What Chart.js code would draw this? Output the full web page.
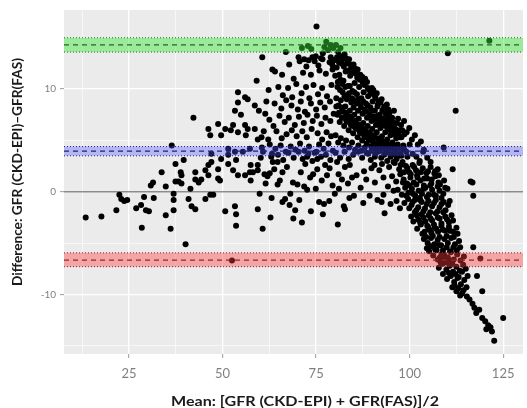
<!DOCTYPE html>
<html>
<head>
<meta charset="utf-8">
<script src="https://cdn.jsdelivr.net/npm/chart.js@4.4.0/dist/chart.umd.min.js"></script>
<style>
  html, body { margin: 0; padding: 0; background: #fff; }
  #wrap { width: 527px; height: 408px; }
</style>
</head>
<body>
<div id="wrap"><canvas id="baChart" width="527" height="408"></canvas></div>
<script>
// Bland-Altman plot: CKD-EPI vs FAS

// axis ranges and ticks
const xMin = 7.6, xMax = 130.3;
const yMin = -15.8, yMax = 17.7;
const xGrid = [12.5, 25, 37.5, 50, 62.5, 75, 87.5, 100, 112.5, 125];
const xLabels = [25, 50, 75, 100, 125];
const yGrid = [-15, -10, -5, 0, 5, 10, 15];
const yLabels = [-10, 0, 10];

// limits of agreement (upper, bias, lower) with their confidence bands
const loaValues = [14.3, 3.95, -6.65];
const loaHigh = [15.0, 4.4, -5.95];
const loaLow = [13.6, 3.5, -7.3];

// [mean, difference] per patient
const points = [
  // low GFR, sparse
  [13.4,-2.5],[17.6,-2.4],[21.6,-1.8],[22.4,-0.3],[22.9,-0.7],[23.7,-0.9],[24.5,-0.8],[26.9,-1.6],[28.4,-3.5],[28.2,-1.3],
  [29.5,-1.8],[30.3,-1.9],[29.0,-0.5],[31.6,-0.6],[30.8,0.6],[31.4,0.9],[33.7,1.9],[34.8,0.5],[34.8,-2.3],[36.1,-3.6],
  [36.4,4.5],[36.9,-0.2],[36.9,-0.8],[36.9,-1.8],[37.4,1.0],[37.4,2.7],[38.2,1.0],[38.8,1.9],[39.0,1.6],[39.0,0.8],
  [39.6,3.1],[40.1,-5.1],[40.9,-0.7],[41.4,0.3],[41.7,-1.4],[42.2,7.2],[42.7,-1.7],[42.7,1.2],[42.7,1.9],[43.6,0.9],
  [44.3,1.2],[45.4,-0.7],[45.4,2.1],[46.2,1.6],[46.2,2.6],[46.2,6.1],[46.7,-0.3],[46.7,5.5],[47.0,2.9],[47.0,3.7],
  [47.5,-0.3],[48.8,1.3],[48.8,2.2],[48.8,6.6],[49.3,1.1],[49.6,3.2],[49.6,5.5],[50.7,-1.9],[50.7,6.1],[51.5,2.7],
  [51.5,3.6],[51.5,4.2],[52.2,6.0],[52.5,-6.7],[52.8,2.1],[52.8,6.5],[53.3,-1.4],[53.3,3.9],[53.3,7.9],[53.6,-2.2],
  [53.6,-3.3],[53.6,3.1],[54.1,1.6],[54.1,5.8],[54.1,8.7],[54.1,9.7],[54.9,7.5],[55.4,3.9],[56.0,1.6],[56.0,6.5],
  [56.0,9.2],[56.2,5.5],[56.7,6.1],[56.7,9.0],[57.3,1.9],[57.3,4.2],[57.5,1.1],[57.5,2.6],[58.6,8.4],[58.6,6.1],
  // middle range, upper part
  [59.1,10.8],[60.6,13.1],[63.3,11.9],[59.7,7.9],[61.4,7.6],[60.4,5.3],[66.9,13.6],[70.3,13.1],[71.2,14.0],[72.8,14.2],
  [73.7,13.9],[74.9,13.2],[75.1,16.1],[76.8,13.5],[77.7,14.6],[78.9,13.1],[79.6,14.0],[64.0,11.7],[65.9,11.4],[67.8,12.4],
  [69.0,11.0],[70.6,12.7],[71.5,11.6],[72.4,12.2],[73.6,11.4],[74.6,12.7],[75.9,11.8],[76.7,12.9],[77.6,11.5],[78.6,12.6],
  [79.4,11.9],[62.3,9.9],[64.9,10.2],[66.1,9.4],[67.5,10.1],[68.6,9.2],[69.7,10.5],[71.1,9.6],[72.3,10.2],[73.2,9.1],
  [74.3,10.4],[75.5,9.5],[76.6,10.1],[77.9,9.3],[79.1,10.4],[61.7,8.8],[63.9,8.6],[65.7,8.1],[67.0,8.9],[68.4,8.4],
  [70.1,8.0],[70.9,8.8],[72.0,7.8],[73.6,8.6],[75.0,8.0],[76.1,8.7],[77.3,8.2],[78.7,8.8],[62.5,7.0],[63.6,6.4],
  [65.2,7.4],[66.6,6.8],[67.7,7.2],[69.3,6.5],[70.4,7.3],[71.7,6.7],[72.7,7.5],[74.1,6.9],[75.2,7.4],[76.4,6.6],
  [77.5,7.2],[78.8,6.9],[79.7,7.6],[61.0,5.9],[62.2,5.1],[64.4,5.9],[65.8,5.2],[67.1,5.6],[68.5,6.0],[69.8,5.4],
  [71.3,5.9],[72.5,5.3],[73.8,6.1],[75.4,5.7],[76.6,5.1],[77.8,5.8],[79.0,5.4],[62.6,4.6],[64.1,4.2],[65.5,4.5],
  [66.9,3.9],[68.2,4.4],[69.5,4.1],[70.7,4.7],[71.9,4.0],[73.1,4.4],[74.6,3.8],[75.8,4.6],[77.0,4.2],[78.3,4.7],
  [79.5,4.0],[60.5,4.3],[63.2,3.7],[59.4,5.1],
  [78.2,13.8],[78.9,14.3],[79.3,12.4],[77.2,14.1],[76.3,13.0],[75.6,12.3],[74.0,13.1],[73.0,12.8],[71.8,12.9],
  // middle range, lower part
  [59.4,-1.7],[59.9,-0.2],[60.7,-3.6],[58.1,1.9],[59.4,2.1],[61.2,1.7],[59.4,2.6],[62.0,1.5],[60.2,3.3],[62.6,1.8],
  [63.4,2.9],[64.7,2.9],[64.7,0.7],[66.0,1.9],[66.0,-1.0],[66.7,-0.7],[67.9,-1.3],[68.1,-0.2],[69.4,-1.8],[70.5,-0.8],
  [70.0,0.7],[72.6,0.2],[73.4,1.4],[72.1,2.7],[72.6,3.4],[75.8,-1.0],[77.1,-1.2],[76.8,-2.2],[77.4,2.6],[75.3,3.2],
  [77.9,1.6],[80.0,-0.2],[81.1,0.3],[81.9,1.2],[82.4,-1.4],[82.7,-1.7],[80.6,2.9],[82.7,2.4],[85.1,-0.4],[89.3,-0.4],
  [90.6,2.6],[93.0,1.4],[93.3,-2.1],[92.5,-1.0],[93.0,-0.3],[75.3,2.2],[84.6,1.4],[87.8,2.0],
  [61.5,0.8],[63.8,2.2],[65.3,1.1],[67.2,2.4],[68.8,0.9],[70.9,1.9],[71.8,0.5],[74.2,1.7],[74.9,0.3],[76.5,1.1],
  [78.6,2.3],[79.4,0.6],[81.0,1.7],[83.5,0.8],[84.0,2.6],[85.8,1.6],[86.9,0.4],[88.4,1.2],[89.8,2.3],[90.7,0.9],
  [91.9,2.1],[91.4,-0.8],[94.2,0.5],[94.9,-1.2],[95.7,0.1],[96.5,-0.9],[97.4,-1.6],[63.1,-0.6],[68.9,-2.6],[73.6,-1.9],
  [78.5,-0.9],[83.9,-0.6],[87.6,-1.1],[71.2,-3.0],[80.8,-3.2],[62.8,-2.5],
  // along the bias line
  [60.8,3.9],[63.0,3.4],[64.8,3.6],[66.2,3.1],[67.6,3.8],[69.0,3.3],[70.3,3.9],[71.4,3.2],[72.9,3.7],[74.0,3.0],
  [75.1,3.9],[76.3,3.4],[77.6,3.6],[78.8,3.1],[80.2,3.8],[81.4,3.3],[82.6,3.9],[83.7,3.2],[84.9,3.6],[86.2,3.9],
  [87.3,3.3],[88.5,3.8],[89.6,3.1],[90.8,3.7],
  // dense peak, 80-97
  [80.3,14.3],[80.9,13.6],[81.5,14.0],[82.0,12.9],[82.6,13.4],[83.2,12.5],[83.8,12.9],[84.4,12.1],[85.0,12.4],[85.6,11.5],
  [86.1,11.9],[86.7,10.9],[87.3,11.2],[87.9,10.4],[88.6,10.7],[89.2,9.9],[89.9,10.1],[90.5,9.4],[91.2,9.6],[91.8,8.8],
  [92.5,9.0],[93.2,8.3],[93.9,8.5],[94.6,7.7],[95.3,7.2],[80.5,12.1],[81.2,11.4],[81.8,12.5],[82.3,10.8],[82.9,11.7],
  [83.5,10.3],[84.1,11.3],[84.7,9.8],[85.3,10.6],[85.9,9.5],[86.5,10.2],[87.1,9.1],[87.7,9.7],[88.3,8.6],[88.9,9.3],
  [89.5,8.2],[90.1,8.8],[90.7,7.9],[91.4,8.3],[92.0,7.5],[92.7,7.9],[93.4,7.0],[94.1,7.3],[94.8,6.5],[95.5,6.8],
  [96.2,6.1],[80.8,10.7],[81.4,9.9],[82.0,10.5],[82.6,9.3],[83.2,9.0],[83.8,9.6],[84.4,8.7],[85.0,8.2],[85.6,8.9],
  [86.2,7.9],[86.8,8.5],[87.4,7.6],[88.0,8.0],[88.6,7.2],[89.2,7.7],[89.8,6.9],[90.4,7.3],[91.0,6.5],[91.6,7.0],
  [92.2,6.2],[92.9,6.6],[93.5,5.8],[94.2,6.2],[94.9,5.5],[95.6,5.9],[96.4,5.2],[97.0,5.7],[80.4,9.1],[81.0,8.4],
  [81.6,8.9],[82.2,7.8],[82.8,8.3],[83.4,7.4],[84.0,7.9],[84.6,7.0],[85.2,7.5],[85.8,6.6],[86.4,7.1],[87.0,6.3],
  [87.6,6.7],[88.2,5.9],[88.8,6.4],[89.4,5.6],[90.0,6.1],[90.6,5.3],[91.2,5.8],[91.9,5.0],[92.6,5.4],[93.3,4.7],
  [94.0,5.1],[94.7,4.4],[95.4,4.8],[96.1,4.2],[96.8,4.6],[97.6,4.0],[80.7,7.5],[81.3,6.8],[81.9,7.2],[82.5,6.4],
  [83.1,6.9],[83.7,6.0],[84.3,6.5],[84.9,5.7],[85.5,6.2],[86.1,5.3],[86.7,5.8],[87.3,5.0],[87.9,5.4],[88.5,4.7],
  [89.1,5.1],[89.7,4.4],[90.3,4.8],[91.0,4.2],[91.6,4.6],[92.3,4.0],[93.0,4.4],[93.7,3.8],[94.4,4.2],[95.1,3.6],
  [95.9,3.9],[96.6,3.4],[97.3,3.8],[80.2,5.5],[80.9,4.8],[81.6,5.2],[82.3,4.5],[83.0,5.0],[83.8,4.3],[84.6,4.8],
  [85.4,4.1],[86.3,4.5],[87.1,4.0],[88.0,4.3],[88.9,3.7],[89.8,4.0],[90.7,3.4],[91.5,3.9],[92.4,3.3],[93.2,3.6],
  [94.0,3.0],[94.9,3.4],[95.7,2.9],[96.5,3.2],
  [79.8,12.8],[80.6,13.1],[81.1,12.6],[81.7,13.2],[82.4,12.2],[83.0,13.0],[83.6,11.8],[84.2,12.4],[84.9,11.6],[85.4,12.0],
  [86.0,11.1],[86.8,11.4],[87.5,10.6],[88.1,11.0],[88.8,10.1],[89.6,9.6],[90.3,9.9],[90.9,9.1],[91.5,8.5],[92.2,8.7],
  [92.9,8.0],[93.6,7.6],[94.3,8.0],[95.0,7.0],[95.8,6.5],[96.6,6.7],[97.4,6.0],
  [80.1,11.3],[80.7,10.2],[81.5,10.9],[82.1,9.7],[82.8,10.2],[83.4,9.4],[84.0,10.3],[84.6,9.1],[85.2,9.7],[85.8,8.6],
  [86.4,9.0],[87.0,8.2],[87.6,8.8],[88.2,7.8],[88.8,8.4],[89.4,7.4],[90.0,7.9],[90.8,7.0],[91.5,7.4],[92.1,6.7],
  [92.8,7.1],[93.5,6.4],[94.1,6.8],[94.8,6.0],[95.4,6.3],[96.0,5.6],[96.9,5.9],[97.8,5.3],[98.6,5.6],
  [80.4,8.3],[81.1,7.7],[81.8,8.2],[82.4,7.2],[83.0,7.7],[83.6,6.8],[84.2,7.3],[84.8,6.4],[85.4,6.9],[86.0,6.1],
  [86.6,6.5],[87.2,5.7],[87.8,6.1],[88.4,5.3],[89.0,5.8],[89.6,5.0],[90.2,5.5],[90.9,4.7],[91.5,5.2],[92.1,4.4],
  [92.8,4.9],[93.5,4.2],[94.2,4.6],[94.9,3.9],[95.6,4.4],[96.3,3.7],[97.0,4.2],[97.8,3.5],[98.6,4.1],[99.4,3.4],
  [95.8,7.9],[96.9,7.1],[97.7,6.5],[98.5,6.9],[99.2,5.8],[99.9,6.2],[100.6,5.1],[101.4,5.5],[102.2,4.6],[103.0,4.9],
  [103.8,4.1],[97.4,5.3],[98.3,4.5],[99.1,3.9],[100.0,4.6],[100.8,3.7],[101.8,3.4],[102.7,3.0],[104.7,3.3],[105.6,2.9],
  [98.0,6.0],[97.1,4.1],[103.6,3.9],
  // falling arm, 92-125
  [92.6,2.7],[94.5,2.4],[96.0,2.8],[97.2,2.2],[98.1,2.9],[99.0,2.5],[99.9,1.9],[100.8,2.6],[101.7,2.1],[102.6,2.8],
  [103.5,2.3],[104.5,1.8],[105.6,2.4],[106.8,2.0],[107.5,2.2],[111.5,2.2],[107.8,1.6],
  [95.3,1.5],[96.4,1.0],[97.5,1.7],[98.4,1.2],[99.3,0.8],[100.2,1.4],[101.1,0.9],[102.0,1.6],[102.9,1.1],[103.8,0.6],
  [104.7,1.3],[105.8,0.8],[106.9,1.5],[108.1,0.7],[109.2,1.1],
  [96.8,0.2],[97.9,-0.3],[98.8,0.4],[99.7,-0.1],[100.6,0.3],[101.5,-0.4],[102.4,0.1],[103.3,-0.2],[104.2,0.4],[105.1,-0.3],
  [106.0,0.2],[107.0,-0.4],[108.0,0.1],[109.0,-0.2],[110.1,0.3],
  [98.6,-1.1],[99.6,-0.7],[100.5,-1.3],[101.4,-0.8],[102.3,-1.5],[103.2,-1.0],[104.1,-1.6],[105.0,-0.9],[106.0,-1.4],[107.0,-0.8],
  [108.0,-1.5],[109.1,-1.0],[110.3,-1.3],[116.8,0.9],[117.0,-0.4],[116.3,1.0],
  [100.4,-2.4],[101.4,-2.0],[102.3,-2.7],[103.2,-2.2],[104.2,-2.9],[105.1,-2.3],[106.0,-2.8],[107.0,-2.1],[108.0,-2.6],[109.0,-2.0],
  [110.0,-2.7],[111.2,-2.3],
  [102.0,-3.6],[103.0,-3.2],[104.0,-3.9],[104.9,-3.4],[105.8,-4.0],[106.7,-3.5],[107.6,-3.9],[108.5,-3.3],[109.5,-3.8],[110.5,-3.4],
  [111.6,-3.9],[112.5,-3.5],
  [103.8,-4.6],[104.8,-5.0],[105.7,-4.5],[106.6,-5.1],[107.5,-4.7],[108.4,-5.2],[109.3,-4.6],[110.2,-5.0],[111.1,-4.5],[112.1,-5.1],
  [113.2,-4.8],
  [105.2,-5.8],[106.3,-6.2],[107.2,-5.7],[108.1,-6.4],[108.7,-6.7],[109.2,-6.1],[109.6,-6.8],[110.2,-6.4],[111.0,-5.9],[111.8,-6.6],
  [112.7,-6.1],[113.6,-6.7],[114.5,-6.3],[118.9,-6.5],[117.0,-5.4],
  [107.8,-7.4],[108.8,-7.0],[109.8,-7.6],[110.7,-7.2],[111.6,-7.8],[112.5,-7.3],[113.4,-7.7],[114.3,-7.1],
  [110.0,-8.5],[111.0,-8.2],[111.9,-8.8],[112.8,-8.4],[113.7,-9.0],[114.6,-8.6],[115.5,-8.2],[118.0,-8.2],
  [112.5,-9.7],[113.5,-10.1],[114.4,-9.6],[119.4,-9.7],[116.0,-10.5],[116.8,-10.9],[117.3,-11.3],
  [119.4,-12.3],[120.2,-12.6],[121.0,-13.0],[121.6,-13.2],[122.0,-13.6],[122.6,-14.5],[125.0,-12.3],
  [97.6,2.6],[98.5,1.9],[99.4,2.3],[100.3,1.7],[101.2,2.4],[102.1,1.4],[103.0,1.9],[103.9,1.3],[104.9,2.0],[105.9,1.2],
  [106.6,1.8],[107.7,0.9],[98.2,0.9],[99.1,-0.4],[100.0,0.6],[100.9,-0.2],[101.8,0.7],[102.7,-0.6],[103.7,0.3],[104.6,-0.5],
  [105.5,0.6],[106.5,-0.3],[107.5,0.5],[108.5,-0.6],[109.5,0.4],[99.9,-1.6],[100.8,-1.0],[101.8,-1.8],[102.8,-0.8],[103.7,-1.9],
  [104.6,-1.2],[105.5,-2.0],[106.5,-1.1],[107.5,-1.9],[108.5,-1.2],[109.6,-1.8],[110.7,-0.9],[101.0,-2.9],[101.9,-2.3],[102.8,-3.0],
  [103.7,-2.5],[104.7,-3.3],[105.6,-2.6],[106.5,-3.2],[107.5,-2.5],[108.5,-3.1],[109.5,-2.4],[110.5,-3.0],[111.6,-2.8],[103.4,-4.1],
  [104.4,-4.4],[105.3,-3.7],[106.2,-4.3],[107.1,-3.6],[108.0,-4.4],[108.9,-3.7],[109.9,-4.3],[110.8,-3.8],[111.8,-4.4],[112.8,-4.1],
  [104.6,-5.5],[105.6,-5.3],[106.8,-5.6],[107.9,-5.2],[108.9,-5.7],[109.9,-5.4],[110.8,-5.8],[111.7,-5.4],[112.6,-5.7],[113.5,-5.4],
  [108.3,-6.9],[109.0,-6.4],[108.5,-6.1],[109.9,-6.9],[110.6,-6.7],[107.5,-6.6],[108.9,-8.0],[110.5,-7.9],[111.4,-7.0],[112.2,-8.0],
  [113.1,-8.3],[114.0,-7.8],[115.0,-7.5],[111.4,-9.3],[112.0,-9.1],[113.0,-9.4],[114.0,-9.9],[115.2,-9.3],[115.3,-10.2],[117.8,-11.8],
  [118.6,-11.5],[120.5,-13.4],
  // isolated high values
  [110.2,13.5],[112.3,7.9],[109.1,4.3],[121.3,14.7]
];

const loaColors = ['#1d6b1d', '#20207a', '#8a2b2b'];
const bandColors = ['rgba(60,230,60,0.45)', 'rgba(80,80,255,0.35)', 'rgba(255,60,60,0.4)'];

const xTitle = 'Mean: [GFR (CKD-EPI) + GFR(FAS)]/2';
const yTitle = 'Difference: GFR (CKD-EPI)\u2013GFR(FAS)';

function hLine(v) {
    return [{ x: xMin, y: v }, { x: xMax, y: v }];
}

// Build datasets
const datasets = [{
    type: 'scatter',
    data: points.map(p => ({ x: p[0], y: p[1] })),
    backgroundColor: '#000',
    borderWidth: 0,
    pointRadius: 3,
    order: 2
}];

loaValues.forEach((v, i) => {
    datasets.push({
        type: 'line', data: hLine(v), borderColor: loaColors[i], borderWidth: 1.2,
        borderDash: [5, 4], pointRadius: 0, fill: false, order: 1
    });
    datasets.push({
        type: 'line', data: hLine(loaHigh[i]), borderColor: loaColors[i], borderWidth: 1,
        borderDash: [1, 2], pointRadius: 0, fill: false, order: 1
    });
    datasets.push({
        type: 'line', data: hLine(loaLow[i]), borderColor: loaColors[i], borderWidth: 1,
        borderDash: [1, 2], pointRadius: 0, fill: '-1', backgroundColor: bandColors[i], order: 1
    });
});

// zero reference line
datasets.push({
    type: 'line', data: hLine(0), borderColor: '#8c8c8c', borderWidth: 1.6,
    pointRadius: 0, fill: false, order: 3
});

// draw text squeezed/stretched to a given length
function fitText(ctx, text, len) {
    const w = ctx.measureText(text).width;
    ctx.scale(len / w, 1);
    ctx.fillText(text, 0, 0);
}

// panel background and axis titles
const panelPlugin = {
    id: 'panel',
    beforeDraw(chart) {
        const { ctx, chartArea } = chart;
        ctx.save();
        ctx.fillStyle = '#fff';
        ctx.fillRect(0, 0, chart.width, chart.height);
        ctx.fillStyle = '#ebebeb';
        ctx.fillRect(chartArea.left, chartArea.top, chartArea.right - chartArea.left, chartArea.bottom - chartArea.top);
        ctx.restore();
    },
    afterDraw(chart) {
        const ctx = chart.ctx;
        ctx.fillStyle = '#1a1a1a';
        ctx.textAlign = 'center';
        ctx.textBaseline = 'middle';

        ctx.save();
        ctx.font = 'bold 14px Lato';
        ctx.translate(305, 401);
        fitText(ctx, xTitle, 268);
        ctx.restore();

        ctx.save();
        ctx.font = 'bold 13px Lato';
        ctx.translate(18, 172);
        ctx.rotate(-Math.PI / 2);
        fitText(ctx, yTitle, 228);
        ctx.restore();
    }
};

const isMajor = (list, c) => c.tick && list.includes(c.tick.value);

new Chart(document.getElementById('baChart'), {
    type: 'scatter',
    data: { datasets: datasets },
    options: {
        responsive: false,
        animation: false,
        layout: { padding: { top: 7, right: 0, bottom: 0, left: 0 } },
        plugins: {
            legend: { display: false },
            tooltip: { enabled: false },
            filler: { propagate: false }
        },
        scales: {
            x: {
                type: 'linear', min: xMin, max: xMax,
                afterBuildTicks: s => { s.ticks = xGrid.map(v => ({ value: v })); },
                afterFit: s => { s.height = 54; },
                border: { display: false },
                grid: {
                    color: '#fff',
                    lineWidth: c => isMajor(xLabels, c) ? 1.3 : 0.6,
                    tickLength: 4,
                    tickWidth: 1,
                    tickColor: c => isMajor(xLabels, c) ? '#9a9a9a' : 'rgba(0,0,0,0)'
                },
                ticks: {
                    autoSkip: false, maxRotation: 0, padding: 8,
                    color: '#7f7f7f', font: { family: 'Lato', size: 13 },
                    callback: v => xLabels.includes(v) ? String(v) : ''
                }
            },
            y: {
                type: 'linear', min: yMin, max: yMax,
                afterBuildTicks: s => { s.ticks = yGrid.map(v => ({ value: v })); },
                afterFit: s => { s.width = 64; },
                border: { display: false },
                grid: {
                    color: '#fff',
                    lineWidth: c => isMajor(yLabels, c) ? 1.3 : 0.6,
                    tickLength: 4,
                    tickWidth: 1,
                    tickColor: c => isMajor(yLabels, c) ? '#9a9a9a' : 'rgba(0,0,0,0)'
                },
                ticks: {
                    autoSkip: false, padding: 4,
                    color: '#7f7f7f', font: { family: 'Lato', size: 10 },
                    callback: v => yLabels.includes(v) ? String(v) : ''
                }
            }
        }
    },
    plugins: [panelPlugin]
});
</script>
</body>
</html>
